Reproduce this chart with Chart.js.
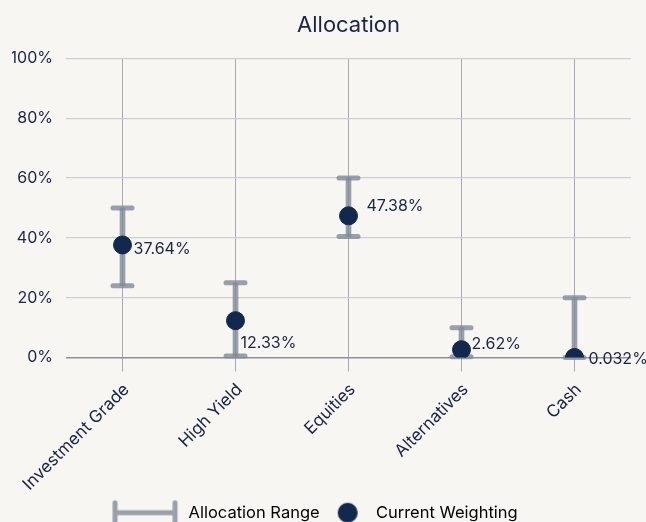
<!DOCTYPE html>
<html>
<head>
<meta charset="utf-8">
<script src="https://cdn.jsdelivr.net/npm/chart.js@4.4.1/dist/chart.umd.min.js"></script>
<style>
  html, body { margin: 0; padding: 0; background: #f7f6f3; overflow: hidden; }
  #wrap { position: relative; width: 646px; height: 531px; }
</style>
</head>
<body>
<div id="wrap"><canvas id="chart"></canvas></div>
<script>
// Datos del gráfico
const categories = ['Investment Grade', 'High Yield', 'Equities', 'Alternatives', 'Cash'];
const rangeLow = [24, 0.5, 40.5, 0.3, 0];
const rangeHigh = [50, 25, 60, 10, 20];
const currentWeight = [37.64, 12.33, 47.38, 2.62, 0.032];
const currentLabels = ['37.64%', '12.33%', '47.38%', '2.62%', '0.032%'];
const seriesNames = ['Allocation Range', 'Current Weighting'];

const INK = '#1b2447';
const NAVY = '#13284d';
const RANGE = 'rgba(128, 136, 150, 0.78)';

Chart.defaults.font.family = "'Inter', 'Noto Sans', sans-serif";
Chart.defaults.color = INK;

// Iconos de leyenda (canvas)
function rangeIcon() {
    const c = document.createElement('canvas');
    c.width = 100; c.height = 26;
    const g = c.getContext('2d');
    g.strokeStyle = RANGE;
    g.lineWidth = 5;
    g.lineCap = 'round';
    g.beginPath();
    g.moveTo(4.75, 13); g.lineTo(64.75, 13);
    g.moveTo(4.75, 3); g.lineTo(4.75, 23);
    g.moveTo(64.75, 3); g.lineTo(64.75, 23);
    g.stroke();
    return c;
}
function dotIcon() {
    const c = document.createElement('canvas');
    c.width = 22; c.height = 22;
    const g = c.getContext('2d');
    g.fillStyle = NAVY;
    g.beginPath();
    g.arc(11, 11, 10, 0, Math.PI * 2);
    g.fill();
    return c;
}

// Tapas de las barras de rango
const capsPlugin = {
    id: 'caps',
    afterDatasetDraw(chart, args) {
        if (args.index !== 0) return;
        const { ctx, scales: { x, y } } = chart;
        ctx.save();
        ctx.strokeStyle = RANGE;
        ctx.lineWidth = 5;
        ctx.lineCap = 'round';
        rangeLow.forEach((lo, i) => {
            const px = x.getPixelForValue(i);
            [lo, rangeHigh[i]].forEach(v => {
                const py = y.getPixelForValue(v);
                ctx.beginPath();
                ctx.moveTo(px - 9.5, py);
                ctx.lineTo(px + 9.5, py);
                ctx.stroke();
            });
        });
        ctx.restore();
    }
};

// Etiquetas de valor junto a cada punto
const valueLabels = {
    id: 'valueLabels',
    afterDatasetsDraw(chart, args, opts) {
        const { ctx } = chart;
        const meta = chart.getDatasetMeta(1);
        ctx.save();
        ctx.font = "16px 'Inter', sans-serif";
        ctx.fillStyle = INK;
        ctx.textAlign = 'left';
        ctx.textBaseline = 'middle';
        meta.data.forEach((pt, i) => {
            const [dx, dy] = opts.shift[i];
            ctx.fillText(currentLabels[i], pt.x + dx, pt.y + dy);
        });
        ctx.restore();
    }
};

new Chart(document.getElementById('chart'), {
    data: {
        labels: categories,
        datasets: [
            {
                type: 'bar',
                label: seriesNames[0],
                data: rangeLow.map((lo, i) => [lo, rangeHigh[i]]),
                backgroundColor: RANGE,
                borderWidth: 0,
                barThickness: 5,
                order: 2
            },
            {
                type: 'line',
                label: seriesNames[1],
                data: currentWeight,
                showLine: false,
                pointRadius: 9,
                pointHoverRadius: 9,
                pointBackgroundColor: NAVY,
                pointBorderColor: NAVY,
                order: 1
            }
        ]
    },
    options: {
        responsive: true,
        maintainAspectRatio: false,
        animation: false,
        layout: { padding: { left: 12, right: 0, top: 4, bottom: 0 } },
        scales: {
            x: {
                offset: true,
                grid: { offset: false, color: '#a9a9b6', lineWidth: 1, tickLength: 14, drawTicks: true },
                border: { display: false },
                ticks: { minRotation: 45, maxRotation: 45, padding: 8, labelOffset: 4, font: { size: 17 }, color: INK },
                afterFit: scale => { scale.paddingRight = 15; scale.height -= 6; }
            },
            y: {
                min: 0,
                max: 100,
                ticks: { stepSize: 20, padding: 13, font: { size: 16 }, color: INK, callback: v => v + '%' },
                grid: {
                    drawTicks: false,
                    lineWidth: ctx => (ctx.tick && ctx.tick.value === 0 ? 1.5 : 1.2),
                    color: ctx => (ctx.tick && ctx.tick.value === 0 ? '#8f8f9c' : '#cdcdd5')
                },
                border: { display: false },
                afterFit: scale => { scale.width = 54; }
            }
        },
        plugins: {
            title: {
                display: true,
                fullSize: false,
                text: 'Allocation',
                color: INK,
                font: { size: 22, weight: 'normal' },
                padding: { top: 8, bottom: 20 }
            },
            legend: {
                position: 'bottom',
                labels: {
                    usePointStyle: true,
                    pointStyleWidth: 40,
                    boxHeight: 20,
                    padding: 8,
                    color: INK,
                    font: { size: 16.5 },
                    generateLabels: () => [
                        { text: seriesNames[0], pointStyle: rangeIcon(), fillStyle: RANGE, strokeStyle: RANGE, lineWidth: 0, datasetIndex: 0 },
                        { text: seriesNames[1], pointStyle: dotIcon(), fillStyle: NAVY, strokeStyle: NAVY, lineWidth: 0, datasetIndex: 1 }
                    ]
                }
            },
            tooltip: { enabled: false },
            valueLabels: {
                shift: [[11, 4], [5, 23], [18, -10], [10, -6], [14, 2]]
            }
        }
    },
    plugins: [capsPlugin, valueLabels]
});
</script>
</body>
</html>
